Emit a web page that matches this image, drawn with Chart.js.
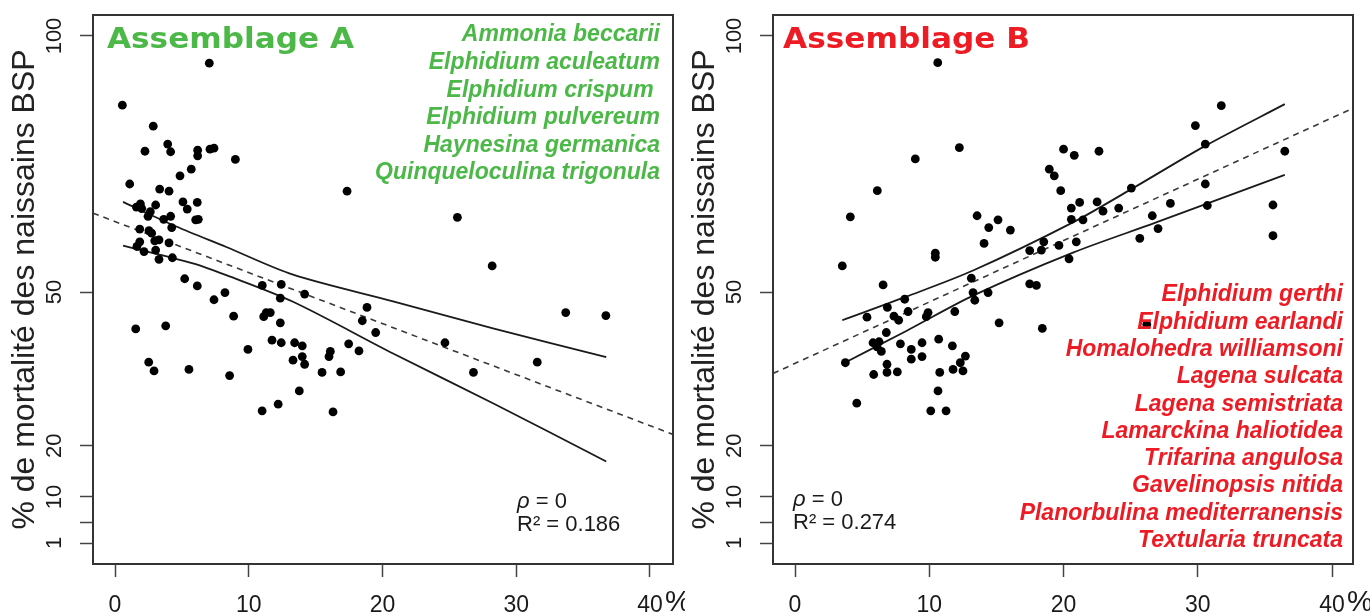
<!DOCTYPE html>
<html><head><meta charset="utf-8">
<script src="https://cdn.jsdelivr.net/npm/chart.js@4.4.0/dist/chart.umd.min.js"></script>
<style>
html,body{margin:0;padding:0;background:#fff;width:1370px;height:613px;overflow:hidden}
#ca{position:absolute;left:0;top:0}
#cb{position:absolute;left:680px;top:0}
</style></head><body>
<canvas id="ca" width="685" height="613"></canvas>
<canvas id="cb" width="690" height="613"></canvas>
<script>
// ---- axis ticks ----
const xTicks = [0, 10, 20, 30, 40];
const yTicks = [1, 5, 10, 20, 50, 100];
const yTickLabels = ['1', '', '10', '20', '50', '100'];
const yTitle = '% de mortalité des naissains BSP';

// ---- Assemblage A ----
const titleA = 'Assemblage A';
const speciesA = ['Ammonia beccarii', 'Elphidium aculeatum', 'Elphidium crispum ', 'Elphidium pulvereum', 'Haynesina germanica', 'Quinqueloculina trigonula'];
const statsA = ['0', 'R² = 0.186'];
const ptsAx = [7.05,0.55,2.86,2.24,3.94,4.16,6.18,6.18,7.1,7.4,9.0,5.7,4.86,1.1,17.35,3.34,4.04,5.08,6.15,5.4,6.03,6.23,1.6,1.9,2.0,3.04,2.64,2.47,3.64,4.16,4.24,1.85,2.54,2.74,3.29,2.97,4.04,1.85,1.64,2.17,3.04,3.29,4.29,5.21,6.15,8.22,7.4,11.01,12.43,12.36,14.18,18.84,18.49,19.49,1.55,3.79,8.87,11.12,11.31,11.61,12.36,9.94,11.74,12.43,13.43,14.0,13.31,14.0,14.18,16.1,16.0,17.47,18.24,15.48,16.87,2.52,2.92,5.53,8.57,13.78,11.0,12.2,16.3,24.67,26.8,31.57,33.7,36.7,25.6,28.2];
const ptsAy = [94.7,86.5,82.4,77.5,78.9,77.4,77.7,76.6,77.9,78.1,75.9,74.0,72.7,71.1,69.7,70.1,69.7,67.6,67.5,66.2,64.1,64.2,66.6,67.2,66.3,67.0,65.7,64.8,64.2,64.8,62.6,62.3,62.0,61.5,60.2,60.0,59.6,59.8,58.9,57.9,58.2,56.4,56.7,52.6,51.2,49.9,48.5,51.3,51.5,48.8,49.6,47.0,44.4,42.1,42.8,43.4,45.3,45.2,46.0,46.0,44.0,38.8,40.6,40.1,40.1,39.5,36.7,37.4,35.9,38.4,37.4,39.9,38.5,34.3,34.4,36.3,34.6,34.9,33.7,30.7,26.8,28.1,26.6,40.1,34.3,36.3,46.0,45.4,64.6,55.1];
const fitAx = [-1.64, 41.72];
const fitAy = [65.4, 22.2];
const upAx = [0.6, 4.58, 8.32, 13.31, 20.79, 28.26, 36.73];
const upAy = [67.6, 62.8, 58.8, 53.4, 48.2, 42.9, 37.3];
const loAx = [0.6, 5.83, 8.32, 13.31, 20.79, 28.26, 36.73];
const loAy = [59.05, 55.6, 53.3, 48.1, 38.0, 28.3, 16.9];

// ---- Assemblage B ----
const titleB = 'Assemblage B';
const speciesB = ['Elphidium gerthi', 'Elphidium earlandi', 'Homalohedra williamsoni', 'Lagena sulcata', 'Lagena semistriata', 'Lamarckina haliotidea', 'Trifarina angulosa', 'Gavelinopsis nitida', 'Planorbulina mediterranensis', 'Textularia truncata'];
const statsB = ['0', 'R² = 0.274'];
const ptsBx = [10.63,12.24,8.96,6.13,4.12,3.52,6.56,13.56,14.43,15.12,16.04,14.08,10.45,10.45,17.48,17.98,18.42,15.2,13.13,13.26,13.39,14.38,11.9,9.91,9.78,8.42,8.17,6.88,5.36,7.37,7.72,6.8,5.81,6.26,6.11,6.43,7.85,9.46,10.7,11.72,8.66,8.66,9.46,12.69,12.31,3.75,6.85,6.85,5.86,7.62,10.78,11.77,12.51,10.65,4.6,10.11,11.25,20.58,20.58,18.53,17.48,18.35,19.66,20.41,20.95,20.0,20.8,22.64,31.75,29.82,30.56,36.48,21.2,21.45,22.5,22.94,24.11,25.05,27.96,26.61,27.04,25.68,30.56,30.71,35.6,35.6,18.94,19.31,19.79,26.2];
const ptsBy = [94.8,78.2,76.0,69.8,64.7,55.1,51.4,64.9,62.6,64.1,62.1,59.5,57.6,56.8,51.6,51.3,42.9,44.0,52.7,49.9,48.4,49.9,46.2,46.0,45.2,46.2,48.6,47.0,45.1,45.3,44.5,42.1,40.1,40.3,39.3,38.4,39.9,40.1,40.8,39.5,38.8,36.9,37.4,37.5,36.2,36.2,35.9,34.3,33.9,34.4,34.3,34.9,34.6,30.7,28.3,26.8,26.8,66.4,64.2,59.8,58.1,58.2,59.1,56.5,59.8,77.9,76.7,77.5,86.4,82.5,78.9,77.5,67.5,64.1,67.6,65.8,66.4,70.3,67.3,64.9,62.4,60.5,71.1,66.9,67.0,61.0,74.0,72.7,69.8,43.7];
const fitBx = [-1.64, 41.56];
const fitBy = [34.1, 85.9];
const upBx = [3.52, 8.29, 13.26, 20.7, 25.05, 30.52, 36.48];
const upBy = [44.5, 49.1, 54.2, 63.6, 70.1, 78.5, 86.7];
const loBx = [3.7, 8.29, 13.26, 20.7, 26.9, 36.48];
const loBy = [36.2, 42.4, 49.3, 57.7, 63.6, 72.9];

const FONT = '"Liberation Sans", Arial, Helvetica, sans-serif';
const GREEN = '#4cb848';
const RED = '#ed1c24';

function xy(xs, ys){ return xs.map((v,i)=>({x:v, y:ys[i]})); }

const deco = {
  id: 'deco',
  afterDraw(chart, args, o){
    const ctx = chart.ctx, a = chart.chartArea, xs = chart.scales.x, ys = chart.scales.y;
    ctx.save();
    ctx.strokeStyle = '#333'; ctx.lineWidth = 2;
    ctx.strokeRect(a.left, a.top, a.right - a.left, a.bottom - a.top);
    // rotated y tick labels
    ctx.fillStyle = '#1a1a1a';
    ctx.font = '22px ' + FONT;
    ctx.textAlign = 'center'; ctx.textBaseline = 'middle';
    yTicks.forEach((v,i)=>{
      const lab = yTickLabels[i]; if(!lab) return;
      const py = ys.getPixelForValue(v);
      ctx.save(); ctx.translate(55, py); ctx.rotate(-Math.PI/2); ctx.fillText(lab, 0, 0); ctx.restore();
    });
    // percent sign after 40
    ctx.font = '29px ' + FONT; ctx.textAlign = 'left';
    ctx.fillText('%', xs.getPixelForValue(40) + 15, 603);
    // title
    ctx.save();
    ctx.fillStyle = o.color;
    ctx.font = 'bold 29px "DejaVu Sans", ' + FONT;
    ctx.textBaseline = 'alphabetic';
    const w = ctx.measureText(o.title).width;
    ctx.translate(o.titleX, 48); ctx.scale(247 / w, 1);
    ctx.fillText(o.title, 0, 0);
    ctx.restore();
    // species list
    ctx.fillStyle = o.color;
    ctx.font = 'italic bold 23px ' + FONT;
    ctx.textAlign = 'right'; ctx.textBaseline = 'middle';
    o.species.forEach((s,i)=> ctx.fillText(s, o.spX, o.spY + i * o.spDy));
    // stats
    ctx.fillStyle = '#1a1a1a';
    ctx.textAlign = 'left';
    ctx.font = 'italic 22px ' + FONT;
    ctx.fillText('ρ', o.stX, o.stY);
    const rw = ctx.measureText('ρ').width;
    ctx.font = '22px ' + FONT;
    ctx.fillText(' = ' + o.stats[0], o.stX + rw, o.stY);
    ctx.fillText(o.stats[1], o.stX, o.stY + 23);
    ctx.restore();
  }
};

function makeChart(id, d){
  return new Chart(document.getElementById(id), {
    type: 'scatter',
    data: { datasets: [
      { data: xy(d.px, d.py), backgroundColor: '#000', borderWidth: 0, pointRadius: 4.4, pointHoverRadius: 4.4 },
      { data: xy(d.fx, d.fy), showLine: true, pointRadius: 0, borderColor: '#3a3a3a', borderWidth: 1.6, borderDash: [6,5] },
      { data: xy(d.ux, d.uy), showLine: true, pointRadius: 0, borderColor: '#1a1a1a', borderWidth: 1.8, tension: 0.3 },
      { data: xy(d.lx, d.ly), showLine: true, pointRadius: 0, borderColor: '#1a1a1a', borderWidth: 1.8, tension: 0.3 }
    ]},
    options: {
      responsive: false, animation: false, devicePixelRatio: 1,
      layout: { padding: { left: 0, top: 15, right: d.padR, bottom: 0 } },
      plugins: { legend: { display: false }, tooltip: { enabled: false }, deco: d.deco },
      scales: {
        x: { type: 'linear', min: d.xmin, max: d.xmax,
          afterBuildTicks: s => { s.ticks = xTicks.map(v => ({value: v})); },
          afterFit: s => { s.height = 49; },
          grid: { drawOnChartArea: false, drawTicks: true, tickLength: 13, tickColor: '#444', tickWidth: 1.5 },
          border: { display: false },
          ticks: { color: '#1a1a1a', font: { size: 23, family: FONT }, padding: 15, maxRotation: 0, autoSkip: false }
        },
        y: { type: 'linear', min: -3.1, max: 104.1,
          afterBuildTicks: s => { s.ticks = yTicks.map(v => ({value: v})); },
          afterFit: s => { s.width = 93; },
          grid: { drawOnChartArea: false, drawTicks: true, tickLength: 13, tickColor: '#444', tickWidth: 1.5 },
          border: { display: false },
          ticks: { display: false },
          title: { display: true, text: yTitle, color: '#222', font: { size: 32, family: FONT }, padding: { top: 6, bottom: 0 } }
        }
      }
    },
    plugins: [deco]
  });
}

makeChart('ca', { px: ptsAx, py: ptsAy, fx: fitAx, fy: fitAy, ux: upAx, uy: upAy, lx: loAx, ly: loAy,
  xmin: -1.645, xmax: 41.72, padR: 12,
  deco: { title: titleA, color: GREEN, titleX: 107, species: speciesA, spX: 660, spY: 35, spDy: 27.6, stats: statsA, stX: 517, stY: 502 } });
makeChart('cb', { px: ptsBx, py: ptsBy, fx: fitBx, fy: fitBy, ux: upBx, uy: upBy, lx: loBx, ly: loBy,
  xmin: -1.64, xmax: 41.56, padR: 17,
  deco: { title: titleB, color: RED, titleX: 103, species: speciesB, spX: 663, spY: 295, spDy: 27.3, stats: statsB, stX: 113, stY: 500 } });
</script>
</body></html>
